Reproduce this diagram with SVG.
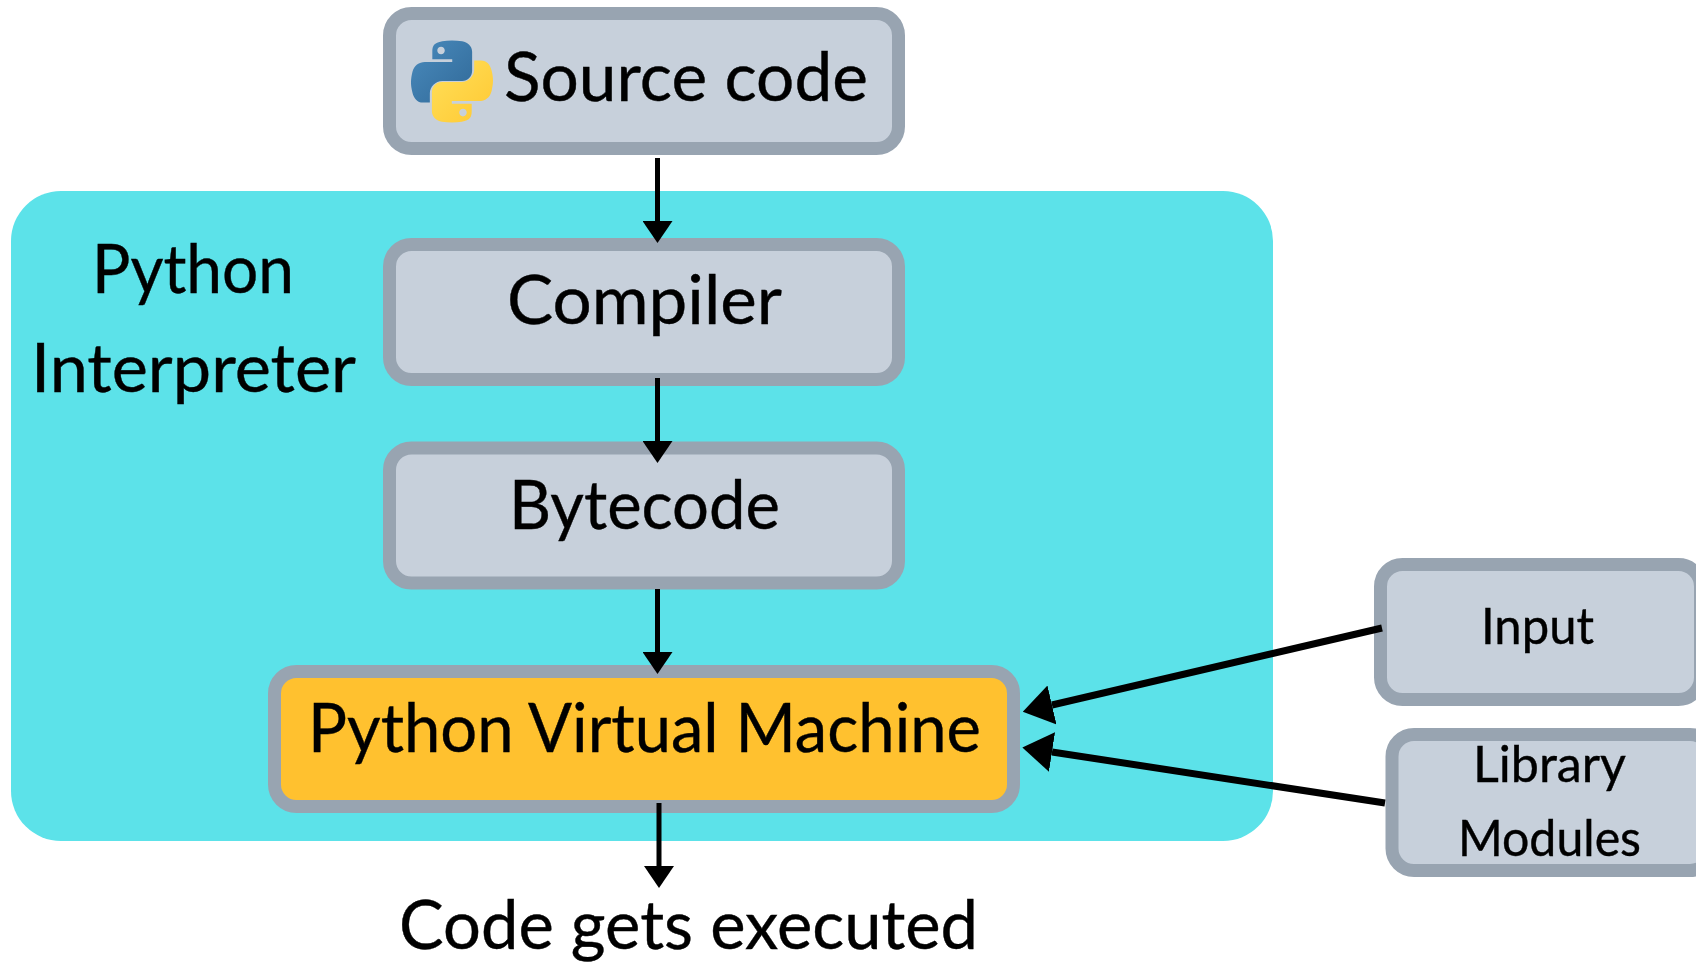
<svg xmlns="http://www.w3.org/2000/svg" xmlns:xlink="http://www.w3.org/1999/xlink" width="1696" height="966" viewBox="0 0 1696 966">
<style>
.box{fill:#c7d0db;stroke:#98a4b1;stroke-width:13}
.vm{fill:#ffc12f;stroke:#98a4b1;stroke-width:13}
text{font-family:"Lato","Open Sans","Liberation Sans",sans-serif;fill:#000;stroke:#000;stroke-width:.4}
.l{font-size:67px}
.s{font-size:50px}
.c{fill:none;stroke:#000}
.v{stroke-width:5;marker-end:url(#headV)}
.d{stroke-width:7;marker-end:url(#headD)}
</style>
<defs>
<marker id="headV" markerUnits="userSpaceOnUse" viewBox="0 0 22 30" markerWidth="22" markerHeight="30" refX="0" refY="15" orient="auto"><path d="M0 0L22 15L0 30Z" fill="#000"/></marker>
<marker id="headD" markerUnits="userSpaceOnUse" viewBox="0 0 30 40" markerWidth="30" markerHeight="40" refX="0" refY="20" orient="auto"><path d="M0 0L30 20L0 40Z" fill="#000"/></marker>
<linearGradient id="pyB" x1="0" y1="0" x2="1" y2="1"><stop offset="0" stop-color="#4a8bbd"/><stop offset="1" stop-color="#306998"/></linearGradient>
<linearGradient id="pyY" x1="0" y1="0" x2="1" y2="1"><stop offset="0" stop-color="#ffc832"/><stop offset="1" stop-color="#ffe05a"/></linearGradient>
<path id="snake" fill-rule="evenodd" d="M54.919 0C50.335 .021 45.958 .412 42.106 1.094C30.76 3.098 28.7 7.294 28.7 15.031V25.25H55.5V28.656H18.644C10.855 28.656 4.034 33.338 1.9 42.25C-.561 52.466-.67 58.84 1.9 69.5C3.806 77.434 8.358 83.094 16.147 83.094H25.362V70.844C25.362 61.993 33.02 54.188 42.106 54.188H68.875C76.327 54.188 82.276 48.052 82.276 40.563V15.031C82.276 7.765 76.146 2.307 68.875 1.094C64.272 .328 59.496-.021 54.919 0ZM40.425 8.219C43.193 8.219 45.453 10.516 45.453 13.34C45.453 16.154 43.193 18.429 40.425 18.429C37.647 18.429 35.397 16.154 35.397 13.34C35.397 10.516 37.647 8.219 40.425 8.219Z"/>
</defs>
<g id="interpreter">
<rect x="11" y="191" width="1262" height="650" rx="50" fill="#5ce2e9"/>
<text class="l" x="92" y="293" textLength="202" lengthAdjust="spacingAndGlyphs">Python</text>
<text class="l" x="31" y="392" textLength="325" lengthAdjust="spacingAndGlyphs">Interpreter</text>
</g>
<g id="source">
<rect class="box" x="389.5" y="13.5" width="509" height="135" rx="22"/>
<g transform="translate(411 40.500) scale(.743 .747)">
<use xlink:href="#snake" href="#snake" fill="url(#pyB)"/>
<use xlink:href="#snake" href="#snake" fill="url(#pyY)" transform="rotate(180 55.2 54.9)"/>
</g>
<text class="l" x="504" y="101" textLength="364" lengthAdjust="spacingAndGlyphs">Source code</text>
</g>
<g id="compiler">
<rect class="box" x="389.5" y="244.500" width="509" height="135" rx="22"/>
<text class="l" x="507" y="324" textLength="275" lengthAdjust="spacingAndGlyphs">Compiler</text>
</g>
<g id="bytecode">
<rect class="box" x="389.5" y="448" width="509" height="135" rx="22"/>
<text class="l" x="509" y="529" textLength="271" lengthAdjust="spacingAndGlyphs">Bytecode</text>
</g>
<g id="pvm">
<rect class="vm" x="274.5" y="671.5" width="739" height="135" rx="22"/>
<text class="l" x="308" y="752" textLength="673" lengthAdjust="spacingAndGlyphs">Python Virtual Machine</text>
</g>
<g id="input">
<rect class="box" x="1380.5" y="564.5" width="320" height="135" rx="22"/>
<text class="s" x="1481" y="644" textLength="113" lengthAdjust="spacingAndGlyphs">Input</text>
</g>
<g id="library">
<rect class="box" x="1392" y="734.5" width="320" height="136" rx="22"/>
<text class="s" x="1473" y="782" textLength="153" lengthAdjust="spacingAndGlyphs">Library</text>
<text class="s" x="1458" y="856" textLength="183" lengthAdjust="spacingAndGlyphs">Modules</text>
</g>
<g id="executed">
<text class="l" x="399" y="949" textLength="579" lengthAdjust="spacingAndGlyphs">Code gets executed</text>
</g>
<g id="connectors">
<path class="c v" d="M657.5 158V221"/>
<path class="c v" d="M657.5 378V441"/>
<path class="c v" d="M657.5 589V652"/>
<path class="c v" d="M659 803V866"/>
<path class="c d" d="M1382 628L1052 705"/>
<path class="c d" d="M1385 803L1052 752"/>
</g>
</svg>
